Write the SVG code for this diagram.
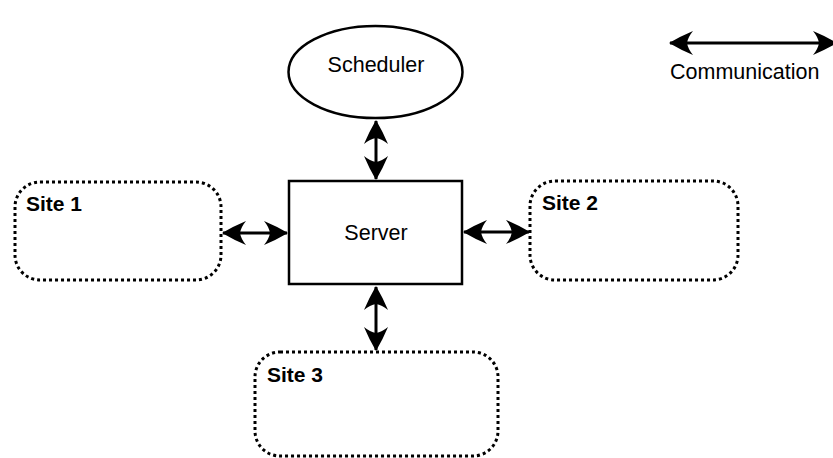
<svg xmlns="http://www.w3.org/2000/svg" width="833" height="458" viewBox="0 0 833 458">
  <defs>
    <marker id="head" viewBox="0 0 24 24" refX="23" refY="12" markerWidth="24" markerHeight="24" markerUnits="userSpaceOnUse" orient="auto-start-reverse">
      <path d="M24,12 Q12,5 0,0 Q5,6 6,12 Q5,18 0,24 Q12,19 24,12 Z" fill="#000"/>
    </marker>
    <style>
      .label { font-family: "Liberation Sans", Arial, sans-serif; font-size: 21.5px; fill: #000; }
      .site-label { font-family: "Liberation Sans", Arial, sans-serif; font-size: 21px; font-weight: bold; fill: #000; }
      .solid { fill: #fff; stroke: #000; stroke-width: 2.5; }
      .site { fill: #fff; stroke: #000; stroke-width: 3; stroke-dasharray: 3 3; }
      .link { stroke: #000; stroke-width: 3; fill: none; marker-start: url(#head); marker-end: url(#head); }
    </style>
  </defs>

  <rect width="833" height="458" fill="#fff"/>

  <g id="connectors">
    <line class="link" x1="376" y1="121" x2="376" y2="179"/>
    <line class="link" x1="223" y1="233" x2="287" y2="233"/>
    <line class="link" x1="464" y1="232" x2="529" y2="232"/>
    <line class="link" x1="376" y1="287" x2="376" y2="350"/>
    <line class="link" x1="670" y1="43" x2="836" y2="43"/>
  </g>

  <g id="scheduler">
    <ellipse class="solid" cx="375.5" cy="72" rx="87" ry="46"/>
    <text class="label" x="376" y="72" text-anchor="middle">Scheduler</text>
  </g>

  <g id="server">
    <rect class="solid" x="289" y="181" width="173" height="103"/>
    <text class="label" x="376" y="240" text-anchor="middle">Server</text>
  </g>

  <g id="site1">
    <rect class="site" x="15" y="182" width="206" height="98" rx="25" ry="25"/>
    <text class="site-label" x="26" y="211">Site 1</text>
  </g>

  <g id="site2">
    <rect class="site" x="530" y="181" width="208" height="99" rx="25" ry="25"/>
    <text class="site-label" x="542" y="210">Site 2</text>
  </g>

  <g id="site3">
    <rect class="site" x="255" y="352" width="243" height="104" rx="25" ry="25"/>
    <text class="site-label" x="267" y="382">Site 3</text>
  </g>

  <g id="legend">
    <text class="label" x="670" y="79">Communication</text>
  </g>
</svg>
